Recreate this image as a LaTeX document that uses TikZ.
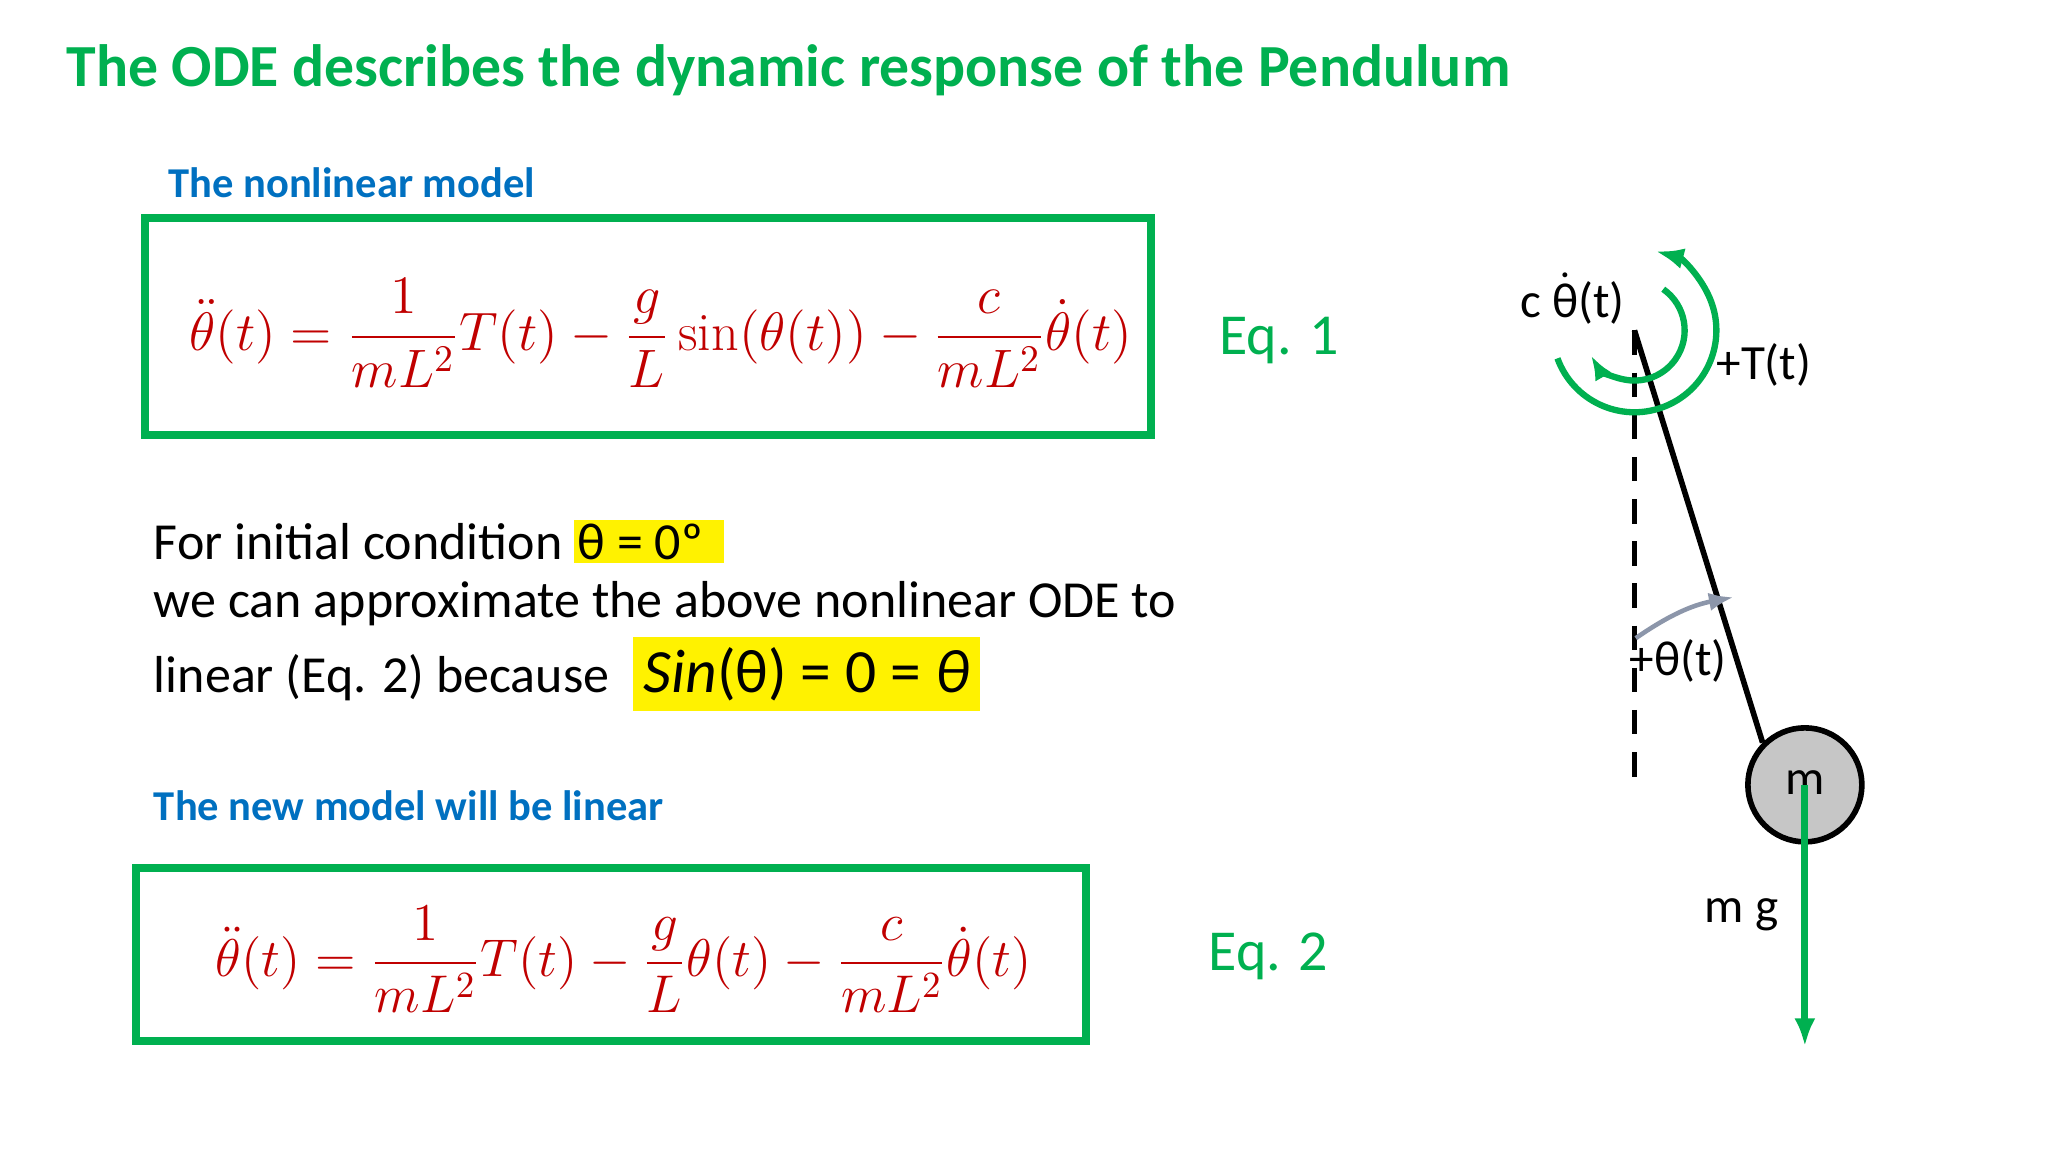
\documentclass[tikz,border=0pt]{standalone}
\usepackage{amsmath}
\usepackage{fontspec}
\setmainfont{Carlito}
\setmathrm{Latin Modern Roman}
\usetikzlibrary{arrows.meta}
\definecolor{ogreen}{RGB}{0,176,80}
\definecolor{oblue}{RGB}{0,112,192}
\definecolor{ored}{RGB}{192,0,0}
\definecolor{ygray}{RGB}{140,150,170}
\tikzset{
  eqbox/.style={draw=ogreen,line width=2.2pt},
  lbl/.style={anchor=west,inner sep=0},
  heading/.style={lbl,text=oblue,font=\bfseries\fontsize{12.1}{14}\selectfont},
  body/.style={lbl,font=\fontsize{14.8}{18}\selectfont},
  eqn/.style={text=ored,font=\fontsize{14.4}{18}\selectfont},
  eqlbl/.style={text=ogreen,font=\fontsize{16.5}{20}\selectfont},
  fig/.style={font=\fontsize{14}{17}\selectfont},
}
\begin{document}
\begin{tikzpicture}[x=0.013213cm,y=-0.013213cm]
\useasboundingbox (0,0) rectangle (1550,872);
\node[lbl,text=ogreen,font=\bfseries\fontsize{17}{21}\selectfont] (title) at (50,53) {The ODE describes the dynamic response of the Pendulum};
\node[heading] (h1) at (127,138) {The nonlinear model};
\draw[eqbox] (110,165) rectangle (871,329);
\node[eqn] (eq1) at (500,252) {\scalebox{1.07}{$\displaystyle \ddot\theta(t)=\frac{1}{mL^2}T(t)-\frac{g}{L}\sin(\theta(t))-\frac{c}{mL^2}\dot\theta(t)$}};
\node[eqlbl] (e1) at (968,258) {Eq. 1};
\node[body] (t1) at (116,410) {For initial condition \setlength{\fboxsep}{1pt}\colorbox{yellow}{θ = 0º\,\,}};
\node[body] (t2) at (116,457) {we can approximate the above nonlinear ODE to};
\node[body] (t3) at (116,510) {linear (Eq. 2) because \ {\fontsize{17.5}{21}\selectfont\colorbox{yellow}{\textit{Sin}(θ) = 0 = \textit{θ}}}};
\node[heading] (h2) at (116,610) {The new model will be linear};
\draw[eqbox] (103,657) rectangle (822,788);
\node[eqn] (eq2) at (472,726) {\scalebox{1.05}{$\displaystyle \ddot\theta(t)=\frac{1}{mL^2}T(t)-\frac{g}{L}\theta(t)-\frac{c}{mL^2}\dot\theta(t)$}};
\node[eqlbl] (e2) at (960,724) {Eq. 2};
% pendulum
\coordinate (piv) at (1237,250);
\coordinate (vend) at (1237,590);
\node[draw,line width=1.6pt,fill=gray!45,circle,minimum size=1.14cm] (ball) at (1366,594) {};
\node[fig] (m) at (1366,592) {m};
\draw[dashed,line width=1.6pt,dash pattern=on 7pt off 5pt] (piv) -- (vend);
\draw[line width=1.6pt] (piv) -- (ball.north west);
\draw[-{Latex[length=7pt]},ygray,line width=1.3pt] (1238,483) to[bend left=12] (1312,452);
\coordinate (gend) at (1366,792);
\draw[-{Latex[length=8pt]},ogreen,line width=2pt] (ball.center) -- (gend);
\draw[-{Latex[length=8pt]},ogreen,line width=1.8pt] (1237,250) ++(160:62) arc[start angle=160,end angle=-75,radius=62];
\draw[-{Latex[length=7pt]},ogreen,line width=1.8pt] (1237,250) ++(-55:38) arc[start angle=-55,end angle=150,radius=38];
\node[fig] (cth) at (1190,226) {c $\dot{\text{θ}}$(t)};
\node[fig] (tq) at (1335,276) {+T(t)};
\node[fig] (thl) at (1270,500) {+θ(t)};
\node[fig] (mg) at (1318,692) {m g};
\end{tikzpicture}
\end{document}
